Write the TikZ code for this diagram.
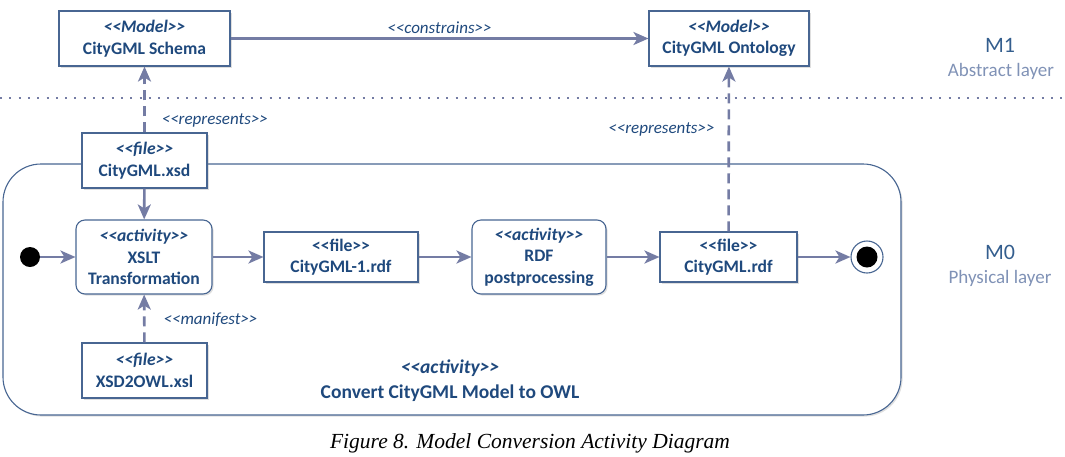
\documentclass[tikz,border=0pt]{standalone}
\usepackage{fontspec}
\setmainfont{Carlito}
\newfontfamily\capfont{Liberation Serif}
\usetikzlibrary{positioning, arrows.meta, shadows}

\definecolor{umlline}{RGB}{72,102,146}
\definecolor{umltext}{RGB}{31,73,125}
\definecolor{flowcol}{RGB}{116,124,164}
\definecolor{layerhead}{RGB}{52,94,142}
\definecolor{layersub}{RGB}{128,146,182}

% stereotype brackets, kerned apart so << and >> stay two characters
\newcommand{\stereo}[1]{<\kern0pt<#1>\kern0pt>}

\begin{document}
\begin{tikzpicture}[
		x=1pt, y=-1pt,
		>={Stealth[length=15pt, width=13pt, inset=4pt]},
		artifact/.style={draw=umlline, line width=1.1pt, fill=white, text=umltext,
			font=\fontsize{17.6}{21.5}\selectfont\bfseries, align=center, inner sep=0pt,
			drop shadow={shadow xshift=1.6pt, shadow yshift=-1.6pt, opacity=0.25}},
		activity/.style={artifact, rounded corners=9pt},
		flow/.style={->, draw=flowcol, line width=2.6pt},
		depend/.style={flow, dash pattern=on 10pt off 6pt},
		stlabel/.style={text=umltext, font=\fontsize{17}{19}\selectfont\itshape, inner sep=1pt},
		layerhead/.style={text=layerhead, font=\fontsize{22}{24}\selectfont},
		layersub/.style={text=layersub, font=\fontsize{19}{21}\selectfont, inner sep=0pt}
		]
		\useasboundingbox (0,0) rectangle (1065,456);
		
		% ==========================================
		% LAYER SEPARATOR AND LABELS
		% ==========================================
		\coordinate (sepL) at (0,98);
		\coordinate (sepR) at (1065,98);
		\draw[flowcol, line width=2pt, dash pattern=on 2pt off 7.3pt] (sepL) -- (sepR);
		
		\node[layerhead] (m1) at (1000,45) {M1};
		\node[layersub] (m1name) at (1001,71) {Abstract layer};
		\node[layerhead] (m0) at (1000,252) {M0};
		\node[layersub] (m0name) at (1000,278) {Physical layer};
		
		% ==========================================
		% ACTIVITY FRAME
		% ==========================================
		\draw[draw=umlline, line width=1.1pt, fill=white, rounded corners=38pt,
		drop shadow={shadow xshift=1.6pt, shadow yshift=-1.6pt, opacity=0.25}]
		(3,164) rectangle (901,415);
		
		\node[text=umltext, font=\fontsize{19.5}{25}\selectfont\bfseries, align=center] (frame)
		at (450,381) {{\itshape\stereo{activity}}\\Convert CityGML Model to OWL};
		
		% ==========================================
		% MODELS (M1)
		% ==========================================
		\node[artifact, minimum width=171, minimum height=55] (schema) at (144.5,38.5)
		{{\itshape\stereo{Model}}\\CityGML Schema};
		\node[artifact, minimum width=160, minimum height=55] (onto) at (729,38.5)
		{{\itshape\stereo{Model}}\\CityGML Ontology};
		
		% ==========================================
		% FILES AND ACTIVITIES (M0)
		% ==========================================
		\node[artifact, minimum width=125, minimum height=55] (xsd) at (144.5,160.5)
		{{\itshape\stereo{file}}\\CityGML.xsd};
		\node[activity, minimum width=136, minimum height=74] (xslt) at (144,257)
		{{\itshape\stereo{activity}}\\XSLT\\Transformation};
		\node[artifact, minimum width=154, minimum height=50] (rdfone) at (341,257)
		{\stereo{file}\\CityGML-1.rdf};
		\node[activity, minimum width=134, minimum height=74] (post) at (539,257)
		{{\itshape\stereo{activity}}\\RDF\\postprocessing};
		\node[artifact, minimum width=137, minimum height=50] (rdfout) at (728.5,257)
		{\stereo{file}\\CityGML.rdf};
		\node[artifact, minimum width=125, minimum height=55] (xslfile) at (144.5,370.5)
		{{\itshape\stereo{file}}\\XSD2OWL.xsl};
		
		% initial and final nodes
		\node[circle, fill=black, minimum size=20, inner sep=0pt] (start) at (30,257) {};
		\node[circle, draw=umlline, line width=1.1pt, fill=white, minimum size=32, inner sep=0pt] (stop) at (867,257) {};
		\node[circle, fill=black, minimum size=21, inner sep=0pt] (stopdot) at (stop.center) {};
		
		% ==========================================
		% FLOWS
		% ==========================================
		\draw[flow] (start) -- (xslt);
		\draw[flow] (xslt) -- (rdfone);
		\draw[flow] (rdfone) -- (post);
		\draw[flow] (post) -- (rdfout);
		\draw[flow] (rdfout) -- (stop);
		\draw[flow] (xsd) -- (xslt);
		
		\draw[flow] (schema) -- node[midway, above=3pt, stlabel] (constrains) {\stereo{constrains}} (onto);
		
		\draw[depend] (xsd) -- node[pos=0.18, right=15pt, stlabel] (repleft) {\stereo{represents}} (schema);
		\draw[depend] (rdfout) -- node[pos=0.62, left=12pt, stlabel] (repright) {\stereo{represents}} (onto);
		\draw[depend] (xslfile) -- node[pos=0.47, right=17pt, stlabel] (manifest) {\stereo{manifest}} (xslt);
		
		% caption
		\node[font=\capfont\itshape\fontsize{21.5}{23}\selectfont] (caption) at (530,443)
		{Figure 8. Model Conversion Activity Diagram};
		
	\end{tikzpicture}
\end{document}
